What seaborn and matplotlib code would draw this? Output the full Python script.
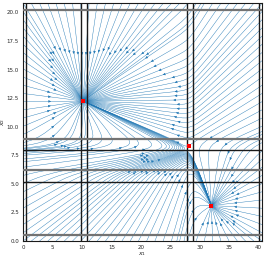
import numpy as np
import matplotlib
matplotlib.use("Agg")
import matplotlib.pyplot as plt
import seaborn as sns

# fixed points
fp_x1 = [10.2, 28.25, 32.0]
fp_x2 = [12.25, 8.3, 3.1]

# target levels of the switching model
x1_levels = [10.2, 32.0]          # x1 low / high
x2_levels = [3.1, 8.6, 12.25]     # x2 low / middle / high
theta1 = 28.3                     # x1 threshold acting on x2
theta2 = [5.7, 8.46]              # x2 thresholds
n1, n2 = 60, 30

# guide lines
vlines_black = [0.57, 9.9, 10.86, 27.8, 28.8, 40.06]
hlines_black = [5.2, 7.96]
hlines_grey = [0.56, 6.19, 8.96, 20.2]

xmax, ymax = 40.6, 20.8

sns.set_theme(style="white")
plt.rcParams['font.family'] = ['DejaVu Sans']

def s_down(x, th, n):
    return 1.0 / (1.0 + (np.maximum(x, 0) / th) ** n)

X1, X2 = np.meshgrid(np.linspace(0, xmax, 320), np.linspace(0, ymax, 320))
lo2, mid2, hi2 = x2_levels
T1 = x1_levels[0] + (x1_levels[1] - x1_levels[0]) * s_down(X2, theta2[1], n2)
T2 = lo2 + s_down(X1, theta1, n1) * ((mid2 - lo2)
                                     + (hi2 - mid2) * (1 - s_down(X2, theta2[1], n2))
                                     + (hi2 - mid2) * s_down(X2, theta2[0], n2))
U = T1 - X1
V = T2 - X2

fig = plt.figure(figsize=(2.66, 2.58), dpi=100)
ax = fig.add_axes([0.087, 0.066, 0.898, 0.921])

ax.streamplot(X1, X2, U, V, density=1.0, color='#1f77b4', linewidth=0.3,
              arrowsize=0.35, broken_streamlines=False, zorder=2)

for v in vlines_black:
    ax.axvline(v, color='k', lw=1.0, zorder=3)
for h in hlines_black:
    ax.axhline(h, color='k', lw=1.0, zorder=3)
for h in hlines_grey:
    ax.axhline(h, color='0.45', lw=1.6, zorder=3)

sns.scatterplot(x=fp_x1, y=fp_x2, color='red', s=6, marker='s', linewidth=0,
                ax=ax, zorder=4)

ax.set_xlim(0, xmax)
ax.set_ylim(0, ymax)
ax.set_xticks(np.arange(0, 41, 5))
ax.set_yticks(np.arange(0, 20.1, 2.5))
ax.tick_params(labelsize=4, length=2, width=0.5, pad=1)
ax.set_xlabel('$x_1$', fontsize=4.5, labelpad=0)
ax.set_ylabel('$x_2$', fontsize=4.5)
ax.yaxis.set_label_coords(-0.068, 0.5)
for s in ax.spines.values():
    s.set_linewidth(0.8)
    s.set_color('k')

fig.savefig('out.png', dpi=100)
